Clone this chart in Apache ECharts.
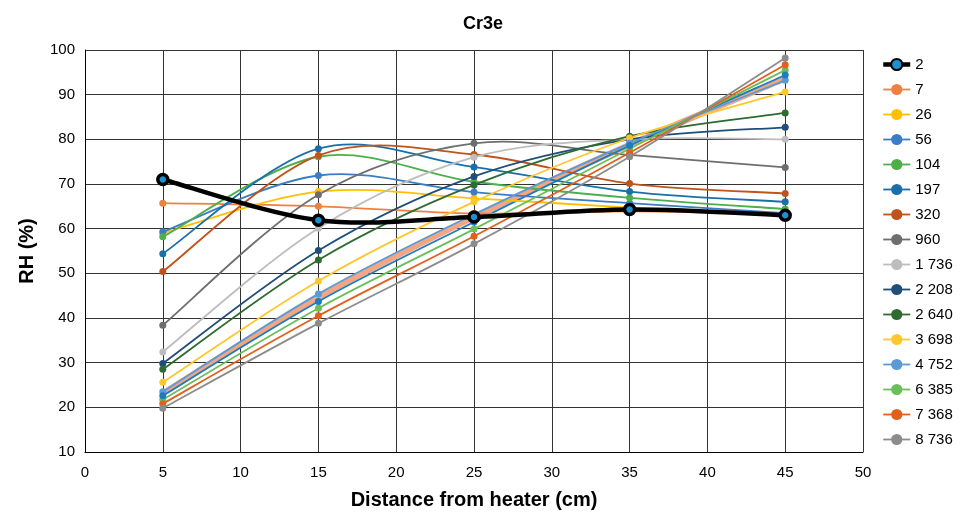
<!DOCTYPE html>
<html><head><meta charset="utf-8">
<script src="https://cdn.jsdelivr.net/npm/echarts@6/dist/echarts.min.js"></script>
<style>html,body{margin:0;padding:0;background:#fff}#c{width:962px;height:515px}</style>
</head><body><div id="c"></div>
<script>
var distances = [5, 15, 25, 35, 45];
var seriesNames = ['2','7','26','56','104','197','320','960','1 736','2 208','2 640','3 698','4 752','6 385','7 368','8 736'];
var s2    = [71.0, 61.9, 62.6, 64.3, 63.0];
var s7    = [65.7, 65.0, 63.4, 63.9, 63.4];
var s26   = [59.0, 68.3, 66.8, 64.7, 63.0];
var s56   = [59.3, 71.9, 68.2, 65.7, 63.5];
var s104  = [58.2, 76.1, 70.5, 66.9, 64.4];
var s197  = [54.4, 77.9, 73.8, 68.3, 66.0];
var s320  = [50.4, 76.4, 76.6, 70.1, 67.9];
var s960  = [38.4, 67.6, 79.1, 76.5, 73.7];
var s1736 = [32.4, 60.1, 76.0, 80.0, 80.0];
var s2208 = [29.8, 55.1, 71.7, 80.0, 82.7];
var s2640 = [28.5, 53.0, 69.8, 80.7, 85.9];
var s3698 = [25.6, 48.3, 66.0, 80.3, 90.6];
var s4752 = [23.5, 45.4, 63.2, 79.1, 93.2];
var s6385 = [21.7, 42.2, 59.9, 77.9, 95.5];
var s7368 = [20.8, 40.5, 58.3, 77.0, 96.7];
var s8736 = [19.8, 38.8, 56.6, 76.1, 98.2];
var extraTeal   = [22.6, 43.7, 61.5, 78.6, 94.4];
var extraSalmon = [23.1, 44.6, 62.6, 78.8, 93.6];

var allValues = [s2,s7,s26,s56,s104,s197,s320,s960,s1736,s2208,s2640,s3698,s4752,s6385,s7368,s8736];
var colors = ['#000000','#F08040','#FFC000','#3A7DC4','#4DAF4A','#1B6FA8','#BF531B','#6E6E6E','#BDBDBD','#1F4E79','#2E6B30','#FFC72C','#5B9BD5','#6ABF5A','#E2601E','#8C8C8C'];
var FONT = 'Liberation Sans, Arial, sans-serif';

function pairs(vals){ return distances.map(function(x,i){ return [x, vals[i]]; }); }

// Catmull-Rom (Excel-like) smoothed curve drawn through the chart's own scales
function curveSeries(name, vals, color, width, z){
  var segs = [];
  for (var i = 0; i < distances.length - 1; i++) segs.push([distances[i], vals[i]]);
  return {
    name: name, type: 'custom', z: z, silent: true,
    data: segs,
    renderItem: function(params, api){
      var i = params.dataIndex, n = distances.length;
      var P = function(k){ k = Math.max(0, Math.min(n-1, k)); return api.coord([distances[k], vals[k]]); };
      var p0 = P(i-1), p1 = P(i), p2 = P(i+1), p3 = P(i+2);
      var c1 = [p1[0] + (p2[0]-p0[0])/6, p1[1] + (p2[1]-p0[1])/6];
      var c2 = [p2[0] - (p3[0]-p1[0])/6, p2[1] - (p3[1]-p1[1])/6];
      return {
        type: 'bezierCurve',
        shape: {x1:p1[0], y1:p1[1], x2:p2[0], y2:p2[1], cpx1:c1[0], cpy1:c1[1], cpx2:c2[0], cpy2:c2[1]},
        style: {stroke: color, lineWidth: width, fill: null, lineCap: 'round'}
      };
    }
  };
}

var series = [];
var legendData = [];
seriesNames.forEach(function(n,i){
  var isMain = (i === 0);
  var w = isMain ? 4.5 : 1.8;
  series.push({name:n, type:'line', data:pairs(allValues[i]), symbol:'circle', symbolSize: isMain ? 10 : 7,
    lineStyle:{color:colors[i], width:w, opacity:0},
    itemStyle: isMain ? {color:'#1E90D0', borderColor:'#000', borderWidth:3.5} : {color:colors[i]},
    z: isMain ? 6 : 5});
  legendData.push({name:n, lineStyle:{opacity:1, color:colors[i], width:w}});
});
// unlabeled extra lines
series.push(curveSeries('_salmon', extraSalmon, '#F4A582', 6, 2));
series.push(curveSeries('_teal', extraTeal, '#1A7DC0', 1.8, 3));
series.push({name:'_tealpts', type:'line', data:pairs(extraTeal), symbol:'circle', symbolSize:7,
  lineStyle:{opacity:0}, itemStyle:{color:'#1A7DC0'}, z:5});
seriesNames.forEach(function(n,i){
  var isMain = (i === 0);
  series.push(curveSeries(n, allValues[i], colors[i], isMain ? 4.5 : 1.8, isMain ? 4 : 3));
});

var chart = echarts.init(document.getElementById('c'), null, {renderer:'canvas'});
chart.setOption({
  animation:false,
  backgroundColor:'#fff',
  title:{text:'Cr3e', left:478, top:10, textAlign:'center',
    textStyle:{fontFamily:FONT, fontWeight:'bold', fontSize:18, color:'#000'}},
  grid:{left:85, right:99, top:50, bottom:61},
  legend:{data:legendData, orient:'vertical', left:876, top:52, itemGap:10, itemWidth:27, itemHeight:14,
    textStyle:{fontFamily:FONT, fontSize:15, color:'#000'}},
  xAxis:{type:'value', min:0, max:50, interval:5,
    name:'Distance from heater (cm)', nameLocation:'middle', nameGap:38,
    nameTextStyle:{fontFamily:FONT, fontWeight:'bold', fontSize:20, color:'#000'},
    axisLine:{lineStyle:{color:'#000', width:1}}, axisTick:{show:false},
    axisLabel:{fontFamily:FONT, fontSize:15, color:'#000', margin:13},
    splitLine:{show:true, lineStyle:{color:'#333', width:1}}},
  yAxis:{type:'value', min:10, max:100, interval:10,
    name:'RH (%)', nameLocation:'middle', nameGap:48, nameRotate:90,
    nameTextStyle:{fontFamily:FONT, fontWeight:'bold', fontSize:20, color:'#000'},
    axisLine:{show:true, lineStyle:{color:'#000', width:1}}, axisTick:{show:false},
    axisLabel:{fontFamily:FONT, fontSize:15, color:'#000', margin:10},
    splitLine:{show:true, lineStyle:{color:'#333', width:1}}},
  series:series
});
</script></body></html>
